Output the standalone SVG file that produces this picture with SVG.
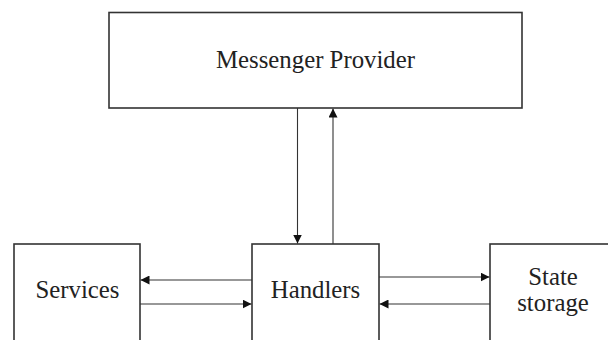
<svg xmlns="http://www.w3.org/2000/svg" width="608" height="340" viewBox="0 0 608 340">
<style>
.box{fill:#fff;stroke:#333;stroke-width:1.6}
.lbl{font-family:"Liberation Serif","Times New Roman",serif;font-size:24.8px;fill:#222;text-anchor:middle}
.con{stroke:#333;stroke-width:1.1;fill:none;marker-end:url(#ah)}
</style>
<defs>
<marker id="ah" viewBox="0 0 10 10" refX="10" refY="5" markerWidth="9" markerHeight="9" markerUnits="userSpaceOnUse" orient="auto">
<path d="M0,0 L10,5 L0,10 Z" fill="#111"/>
</marker>
</defs>
<rect width="608" height="340" fill="#fff"/>
<g id="messenger-provider">
<rect class="box" x="109" y="12.5" width="413" height="95.5"/>
<text class="lbl" x="315.5" y="68">Messenger Provider</text>
</g>
<g id="services">
<rect class="box" x="14" y="244" width="126" height="110"/>
<text class="lbl" x="77.5" y="298">Services</text>
</g>
<g id="handlers">
<rect class="box" x="252" y="244" width="127" height="110"/>
<text class="lbl" x="315.5" y="298">Handlers</text>
</g>
<g id="state-storage">
<rect class="box" x="490" y="244" width="130" height="110"/>
<text class="lbl" x="553" y="285">State</text>
<text class="lbl" x="553" y="311">storage</text>
</g>
<g id="connectors">
<line class="con" x1="297.5" y1="108" x2="297.5" y2="243.5"/>
<line class="con" x1="333" y1="244" x2="333" y2="108.5"/>
<line class="con" x1="252" y1="280" x2="140.5" y2="280"/>
<line class="con" x1="140" y1="304" x2="251.5" y2="304"/>
<line class="con" x1="379" y1="277" x2="489.5" y2="277"/>
<line class="con" x1="490" y1="304" x2="379.5" y2="304"/>
</g>
</svg>
